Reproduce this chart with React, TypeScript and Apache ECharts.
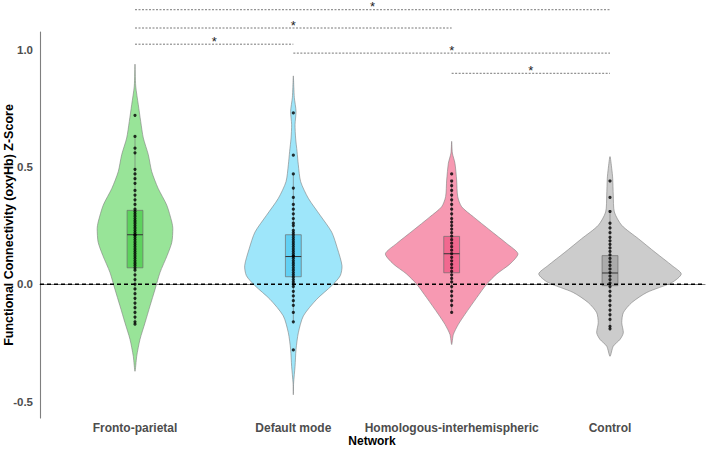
import React, { useEffect, useRef } from "react";
import * as echarts from "echarts";

// ---------- data ----------
const CATEGORIES = ["Fronto-parietal", "Default mode", "Homologous-interhemispheric", "Control"];
const Y_TICKS = [-0.5, 0, 0.5, 1.0];
const X_TITLE = "Network";
const Y_TITLE = "Functional Connectivity (oxyHb) Z-Score";

// violin outlines: levels (value) and relative density (0..1 of widest violin)
const FP_VIOLIN_Y = [0.938, 0.845, 0.766, 0.694, 0.623, 0.552, 0.48, 0.409, 0.337, 0.265, 0.237, 0.179, 0.122, 0.051, -0.021, -0.092, -0.164, -0.235, -0.307, -0.371];
const FP_VIOLIN_D = [0, 0.01, 0.046, 0.08, 0.117, 0.187, 0.235, 0.324, 0.446, 0.517, 0.531, 0.517, 0.451, 0.352, 0.282, 0.211, 0.141, 0.07, 0.024, 0];
const DM_VIOLIN_Y = [0.888, 0.838, 0.795, 0.737, 0.68, 0.623, 0.566, 0.509, 0.437, 0.366, 0.294, 0.222, 0.151, 0.079, 0.036, -0.006, -0.064, -0.135, -0.207, -0.278, -0.35, -0.421, -0.471];
const DM_VIOLIN_D = [0, 0.007, 0.014, 0.038, 0.024, 0.032, 0.052, 0.07, 0.103, 0.211, 0.376, 0.539, 0.62, 0.683, 0.658, 0.539, 0.328, 0.141, 0.07, 0.038, 0.024, 0.004, 0];
const HI_VIOLIN_Y = [0.609, 0.559, 0.516, 0.444, 0.373, 0.33, 0.287, 0.23, 0.173, 0.13, 0.087, 0.044, 0.001, -0.057, -0.128, -0.171, -0.214, -0.257];
const HI_VIOLIN_D = [0, 0.01, 0.046, 0.07, 0.085, 0.141, 0.306, 0.539, 0.775, 0.93, 0.821, 0.634, 0.493, 0.352, 0.187, 0.094, 0.024, 0];
const CT_VIOLIN_Y = [0.544, 0.494, 0.451, 0.38, 0.308, 0.251, 0.194, 0.136, 0.079, 0.044, 0.008, -0.035, -0.078, -0.121, -0.164, -0.207, -0.235, -0.264, -0.307];
const CT_VIOLIN_D = [0, 0.024, 0.038, 0.046, 0.061, 0.165, 0.399, 0.634, 0.873, 1, 0.873, 0.517, 0.306, 0.187, 0.165, 0.187, 0.141, 0.046, 0];

// box plot statistics
const BOX_Q1 = [0.07, 0.032, 0.049, -0.006];
const BOX_MED = [0.211, 0.118, 0.13, 0.048];
const BOX_Q3 = [0.315, 0.211, 0.204, 0.122];
const WHISK_LO = [-0.17, -0.16, -0.12, -0.19];
const WHISK_HI = [0.63, 0.47, 0.44, 0.31];

// individual observations
const FP_POINTS = [0.72, 0.63, 0.58, 0.56, 0.49, 0.47, 0.45, 0.43, 0.4, 0.38, 0.36, 0.34, 0.32, 0.31, 0.3, 0.29, 0.28, 0.27, 0.26, 0.25, 0.24, 0.23, 0.22, 0.21, 0.21, 0.2, 0.19, 0.18, 0.17, 0.16, 0.15, 0.14, 0.13, 0.12, 0.11, 0.1, 0.09, 0.08, 0.07, 0.06, 0.04, 0.02, 0.0, -0.02, -0.04, -0.06, -0.08, -0.1, -0.12, -0.14, -0.16, -0.17];
const DM_POINTS = [0.73, 0.55, 0.47, 0.41, 0.37, 0.34, 0.32, 0.3, 0.28, 0.26, 0.25, 0.23, 0.22, 0.21, 0.2, 0.19, 0.18, 0.17, 0.16, 0.15, 0.14, 0.13, 0.12, 0.12, 0.11, 0.1, 0.09, 0.08, 0.07, 0.06, 0.05, 0.04, 0.03, 0.02, 0.01, 0.0, -0.01, -0.03, -0.05, -0.07, -0.09, -0.12, -0.16, -0.28];
const HI_POINTS = [0.47, 0.44, 0.42, 0.4, 0.38, 0.36, 0.34, 0.32, 0.3, 0.28, 0.265, 0.25, 0.235, 0.22, 0.205, 0.19, 0.175, 0.16, 0.145, 0.13, 0.115, 0.1, 0.085, 0.07, 0.055, 0.04, 0.025, 0.01, -0.01, -0.03, -0.05, -0.07, -0.09, -0.12];
const CT_POINTS = [0.44, 0.37, 0.31, 0.26, 0.24, 0.22, 0.2, 0.185, 0.17, 0.155, 0.14, 0.125, 0.11, 0.095, 0.08, 0.065, 0.05, 0.035, 0.02, 0.005, -0.01, -0.03, -0.05, -0.07, -0.09, -0.11, -0.13, -0.15, -0.18, -0.19];

// significance comparisons (group index 1..4) and bar heights
const COMP_FROM = [1, 1, 1, 2, 3];
const COMP_TO = [4, 3, 2, 4, 4];
const COMP_Y = [1.17, 1.092, 1.023, 0.985, 0.899];
const COMP_LABEL = ["*", "*", "*", "*", "*"];

// ---------- styling ----------
const VIOLIN_FILL = ["#98E498", "#9EE6FA", "#F799B2", "#CCCCCC"];
const BOX_FILL = ["#5DD25D", "#62D0F3", "#F1688F", "#ABABAB"];
const MAX_HALF = 0.45;
const BOX_HALF = 0.05;
const FONT = "'Liberation Sans', Arial, Helvetica, sans-serif";

const VIOLIN_Y = [FP_VIOLIN_Y, DM_VIOLIN_Y, HI_VIOLIN_Y, CT_VIOLIN_Y];
const VIOLIN_D = [FP_VIOLIN_D, DM_VIOLIN_D, HI_VIOLIN_D, CT_VIOLIN_D];
const POINTS = [FP_POINTS, DM_POINTS, HI_POINTS, CT_POINTS];

export default function App() {
  const ref = useRef<HTMLDivElement>(null);
  useEffect(() => {
    if (!ref.current) return;
    const chart = echarts.init(ref.current, undefined, { renderer: "svg" });

    const violinSeries = {
      type: "custom",
      z: 1,
      silent: true,
      data: CATEGORIES.map((_, i) => [i + 1, BOX_MED[i]]),
      encode: { x: 0, y: 1 },
      renderItem: (params: any, api: any) => {
        const i = params.dataIndex;
        const ys = VIOLIN_Y[i];
        const ds = VIOLIN_D[i];
        const cx = i + 1;
        const right = ys.map((y, k) => api.coord([cx + ds[k] * MAX_HALF, y]));
        const left = ys
          .map((y, k) => api.coord([cx - ds[k] * MAX_HALF, y]))
          .slice(1, ys.length - 1)
          .reverse();
        return {
          type: "polygon",
          shape: { points: right.concat(left), smooth: 0.25 },
          style: { fill: VIOLIN_FILL[i], stroke: "#7d7d7d", lineWidth: 0.6 },
        };
      },
    };

    const boxSeries = {
      type: "custom",
      z: 2,
      silent: true,
      data: CATEGORIES.map((_, i) => [i + 1, BOX_MED[i]]),
      encode: { x: 0, y: 1 },
      renderItem: (params: any, api: any) => {
        const i = params.dataIndex;
        const cx = i + 1;
        const tl = api.coord([cx - BOX_HALF, BOX_Q3[i]]);
        const br = api.coord([cx + BOX_HALF, BOX_Q1[i]]);
        const ml = api.coord([cx - BOX_HALF, BOX_MED[i]]);
        const mr = api.coord([cx + BOX_HALF, BOX_MED[i]]);
        const c = api.coord([cx, 0])[0];
        const hi = api.coord([cx, WHISK_HI[i]])[1];
        const lo = api.coord([cx, WHISK_LO[i]])[1];
        return {
          type: "group",
          children: [
            { type: "line", shape: { x1: c, y1: tl[1], x2: c, y2: hi }, style: { stroke: "#6e6e6e", lineWidth: 0.6 } },
            { type: "line", shape: { x1: c, y1: br[1], x2: c, y2: lo }, style: { stroke: "#6e6e6e", lineWidth: 0.6 } },
            {
              type: "rect",
              shape: { x: tl[0], y: tl[1], width: br[0] - tl[0], height: br[1] - tl[1] },
              style: { fill: BOX_FILL[i], stroke: "#6e6e6e", lineWidth: 0.7 },
            },
            { type: "line", shape: { x1: ml[0], y1: ml[1], x2: mr[0], y2: mr[1] }, style: { stroke: "#333333", lineWidth: 1 } },
          ],
        };
      },
    };

    const zeroLine = {
      type: "line",
      z: 3,
      data: [[0.4, 0], [4.6, 0]],
      symbol: "none",
      silent: true,
      lineStyle: { color: "#000000", width: 1.3, type: [4, 3] },
    };

    const pointSeries = POINTS.map((pts, i) => ({
      type: "scatter",
      z: 4,
      symbolSize: 3.2,
      itemStyle: { color: "#000000" },
      data: pts.map((v) => [i + 1, v]),
      silent: true,
    }));

    const compSeries = {
      type: "custom",
      z: 5,
      clip: false,
      silent: true,
      data: COMP_FROM.map((f, k) => [f, COMP_TO[k], COMP_Y[k]]),
      encode: { x: [0, 1], y: 2 },
      renderItem: (params: any, api: any) => {
        const k = params.dataIndex;
        const p1 = api.coord([api.value(0), api.value(2)]);
        const p2 = api.coord([api.value(1), api.value(2)]);
        return {
          type: "group",
          children: [
            {
              type: "line",
              shape: { x1: p1[0], y1: p1[1], x2: p2[0], y2: p2[1] },
              style: { stroke: "#555555", lineWidth: 0.8, lineDash: [2, 1.5] },
            },
            {
              type: "text",
              x: (p1[0] + p2[0]) / 2,
              y: p1[1] - 3,
              style: {
                text: COMP_LABEL[k],
                fill: "#222222",
                fontSize: 13,
                fontFamily: FONT,
                align: "center",
                verticalAlign: "middle",
              },
            },
          ],
        };
      },
    };

    chart.setOption({
      animation: false,
      grid: { left: 40, right: 3, top: 32, bottom: 32, containLabel: false, outerBoundsMode: "none" },
      graphic: [
        {
          type: "text",
          x: 9,
          y: 225,
          rotation: Math.PI / 2,
          style: {
            text: Y_TITLE,
            fill: "#000000",
            font: `bold 12.5px ${FONT}`,
            align: "center",
            verticalAlign: "middle",
          },
        },
        {
          type: "text",
          x: 372,
          y: 441,
          style: {
            text: X_TITLE,
            fill: "#000000",
            font: `bold 12px ${FONT}`,
            align: "center",
            verticalAlign: "middle",
          },
        },
      ],
      xAxis: {
        type: "value",
        min: 0.4,
        max: 4.6,
        axisLine: { show: true, lineStyle: { color: "#7f7f7f", width: 1.1 } },
        axisTick: { show: false },
        splitLine: { show: false },
        axisLabel: {
          customValues: [1, 2, 3, 4],
          formatter: (v: number) => CATEGORIES[Math.round(v) - 1] ?? "",
          color: "#4d4d4d",
          fontWeight: "bold",
          fontSize: 12,
          fontFamily: FONT,
          margin: 4,
        },
      },
      yAxis: {
        type: "value",
        min: -0.57,
        max: 1.075,
        axisLine: { show: true, lineStyle: { color: "#7f7f7f", width: 1.1 } },
        axisTick: { show: false },
        splitLine: { show: false },
        axisLabel: {
          customValues: Y_TICKS,
          formatter: (v: number) => v.toFixed(1),
          color: "#4d4d4d",
          fontWeight: "bold",
          fontSize: 11.5,
          fontFamily: FONT,
          margin: 7,
        },
      },
      series: [violinSeries, boxSeries, zeroLine, ...pointSeries, compSeries],
    });
    return () => chart.dispose();
  }, []);
  return <div ref={ref} style={{ position: "fixed", left: 0, top: 0, width: 708, height: 450, background: "#ffffff" }} />;
}
